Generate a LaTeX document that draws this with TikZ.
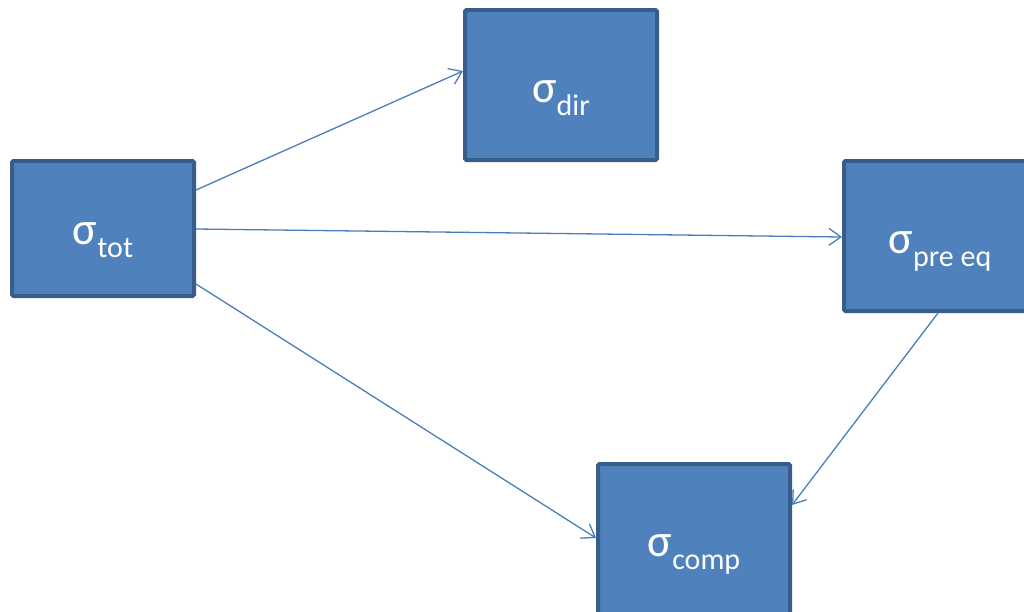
\documentclass[tikz,border=0pt]{standalone}
\usepackage{fontspec}
\setmainfont{Carlito}
\usetikzlibrary{arrows.meta}
\definecolor{boxfill}{HTML}{4F81BD}
\definecolor{boxline}{HTML}{385D8A}
\definecolor{arrowc}{HTML}{4A7EBB}
\tikzset{
  box/.style={draw=boxline, fill=boxfill, line width=4pt, rounded corners=1.5pt, rectangle, inner sep=0pt},
  lbl/.style={anchor=base, text=white, inner sep=0pt, font=\fontsize{46}{50}\selectfont},
  conn/.style={draw=arrowc, line width=1.3pt, -{Straight Barb[length=12pt,width=17pt,line width=1.3pt]}}
}
\newcommand{\sub}[1]{\raisebox{-13pt}{\fontsize{30}{34}\selectfont #1}}
\begin{document}
\begin{tikzpicture}[x=1pt,y=-1pt]
\useasboundingbox (0,0) rectangle (1024,611);
\clip (0,0) rectangle (1024,611);
\node[box, minimum width=182pt, minimum height=135pt] (tot) at (103,228.5) {};
\node[box, minimum width=192pt, minimum height=150pt] (dir) at (561,85) {};
\node[box, minimum width=192pt, minimum height=150pt] (pre) at (940,236) {};
\node[box, minimum width=192pt, minimum height=150pt] (comp) at (694,539) {};
\node[lbl] (totl) at ([yshift=-16pt]tot.center) {σ\sub{tot}};
\node[lbl] (dirl) at ([yshift=-17pt]dir.center) {σ\sub{dir}};
\node[lbl] (prel) at ([yshift=-17pt]pre.center) {σ\sub{pre eq}};
\node[lbl] (compl) at ([yshift=-17pt]comp.center) {σ\sub{comp}};
\draw[conn] ([yshift=38.5pt]tot.east) -- ([yshift=14pt]dir.west);
\draw[conn] ([yshift=-0.5pt]tot.east) -- ([yshift=-1pt]pre.west);
\draw[conn] ([yshift=-55.5pt]tot.east) -- ([yshift=1pt]comp.west);
\draw[conn] ([xshift=-2pt]pre.south) -- ([yshift=34pt]comp.east);
\end{tikzpicture}
\end{document}
